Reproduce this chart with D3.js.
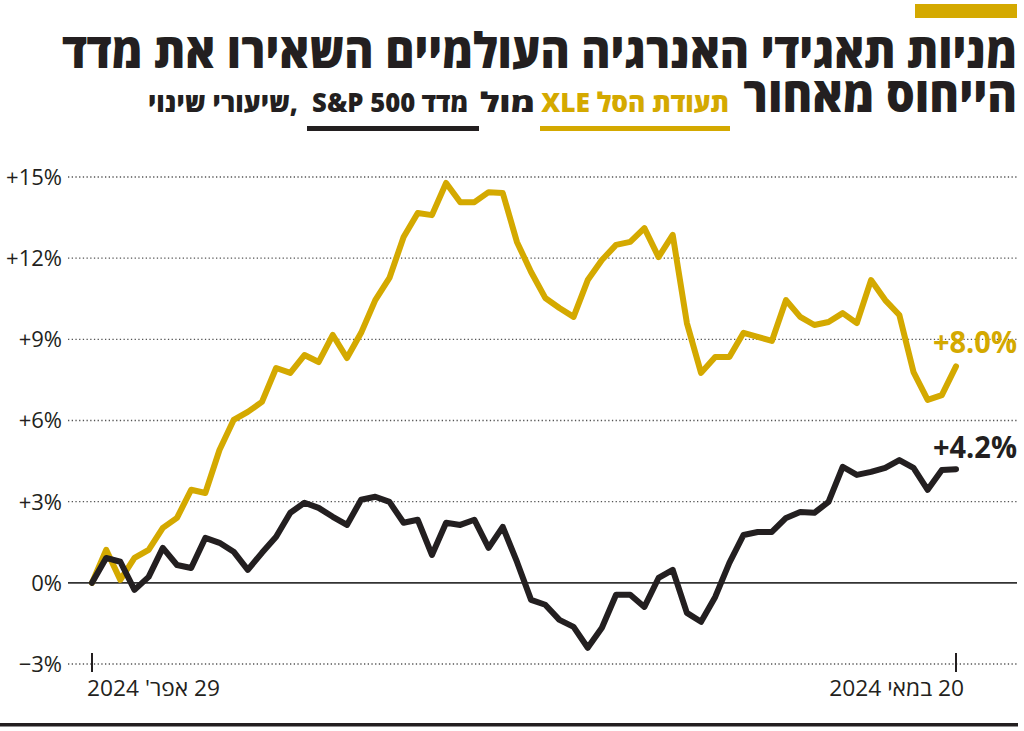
<!DOCTYPE html>
<html><head><meta charset="utf-8">
<script src="https://cdn.jsdelivr.net/npm/d3@7"></script>
<style>body{margin:0;background:#fff}svg{display:block}</style>
</head><body>
<script>
// ---- data ----
const titleLines = ["מניות תאגידי האנרגיה העולמיים השאירו את מדד", "הייחוס מאחור"];
const legendXLE = "תעודת הסל XLE";
const legendVs = "מול";
const legendSPX = "מדד S&P 500";
const legendTail = ",שיעורי שינוי";
const xTickLabels = ["29 אפר' 2024", "20 במאי 2024"];
const yTicks = [-3, 0, 3, 6, 9, 12, 15];
const xleValues = [0, 1.22, 0.11, 0.92, 1.22, 2.03, 2.40, 3.44, 3.32, 4.91,
  6.02, 6.32, 6.69, 7.94, 7.76, 8.42, 8.16, 9.16, 8.31, 9.24,
  10.45, 11.27, 12.78, 13.67, 13.59, 14.78, 14.07, 14.07, 14.44, 14.41,
  12.60, 11.49, 10.53, 10.16, 9.83, 11.19, 11.93, 12.49, 12.60, 13.11,
  12.04, 12.86, 9.60, 7.76, 8.35, 8.35, 9.24, 9.09, 8.94, 10.45,
  9.83, 9.53, 9.64, 9.97, 9.60, 11.19, 10.45, 9.90, 7.79, 6.76,
  6.94, 8.0];
const spxValues = [0, 0.92, 0.78, -0.26, 0.22, 1.29, 0.66, 0.55, 1.66, 1.48,
  1.15, 0.48, 1.11, 1.70, 2.59, 2.96, 2.77, 2.44, 2.14, 3.07,
  3.18, 2.99, 2.22, 2.33, 1.03, 2.22, 2.14, 2.33, 1.29, 2.07,
  0.78, -0.63, -0.81, -1.37, -1.63, -2.40, -1.66, -0.44, -0.44, -0.89,
  0.18, 0.48, -1.11, -1.44, -0.52, 0.74, 1.77, 1.88, 1.88, 2.40,
  2.62, 2.59, 2.99, 4.29, 3.99, 4.10, 4.25, 4.54, 4.25, 3.44,
  4.17, 4.2];

// ---- layout ----
const W = 1024, H = 731;
const GOLD = "#d4a900", INK = "#231f20";
const HEB = "'Open Sans','DejaVu Sans',sans-serif";
const svg = d3.select("body").append("svg").attr("width", W).attr("height", H);

const x = d3.scaleLinear().domain([0, xleValues.length - 1]).range([92, 956]);
const y = d3.scaleLinear().domain([-3, 15]).range([664, 177]);

// place a text so its right edge is at rightX and its width equals width (horizontal scale)
function fitRight(sel, rightX, width) {
  sel.attr("x", 0);
  const b = sel.node().getBBox();
  sel.attr("x", -(b.x + b.width));
  const sx = width ? width / b.width : 1;
  sel.attr("transform", `translate(${rightX},0) scale(${sx},1)`);
  return sel;
}
function htext(txt, baseline, size, weight, color) {
  return svg.append("text").attr("y", baseline).attr("direction", "rtl")
    .attr("font-family", HEB).attr("font-weight", weight).attr("font-size", size)
    .attr("fill", color).text(txt);
}

// top accent bar
svg.append("rect").attr("x", 915).attr("y", 4).attr("width", 102).attr("height", 14).attr("fill", GOLD);

// title
fitRight(htext(titleLines[0], 68, 49, 800, INK), 1017, 955);
fitRight(htext(titleLines[1], 112, 49, 800, INK), 1017, 274);

// subtitle / legend
fitRight(htext(legendXLE, 112, 27, 800, GOLD), 729, 188);
fitRight(htext(legendVs, 112, 27, 800, INK), 535, 55);
fitRight(htext(legendSPX, 112, 27, 800, INK), 468, 156);
fitRight(htext(legendTail, 112, 27, 800, INK), 298, 150);
svg.append("rect").attr("x", 540).attr("y", 126).attr("width", 190).attr("height", 5).attr("fill", GOLD);
svg.append("rect").attr("x", 307).attr("y", 126).attr("width", 172).attr("height", 5).attr("fill", INK);

// grid
const g = svg.append("g");
g.selectAll("line.grid").data(yTicks.filter(d => d !== 0)).join("line")
  .attr("x1", 68).attr("x2", 1017).attr("y1", d => y(d)).attr("y2", d => y(d))
  .attr("stroke", "#555").attr("stroke-width", 1.3).attr("stroke-dasharray", "1.3,2.4");
g.append("line").attr("x1", 68).attr("x2", 1017).attr("y1", y(0)).attr("y2", y(0))
  .attr("stroke", "#333").attr("stroke-width", 1.8);

// y labels
const fmtY = d => d === 0 ? "0%" : (d > 0 ? "+" + d + "%" : "\u2212" + Math.abs(d) + "%");
g.selectAll("text.yl").data(yTicks).join("text")
  .attr("x", 62).attr("y", d => y(d)).attr("dy", "0.36em").attr("text-anchor", "end")
  .attr("font-family", "'Open Sans',sans-serif").attr("font-size", 22).attr("fill", INK)
  .text(fmtY);

// x ticks and labels
const tickIdx = [0, xleValues.length - 1];
g.selectAll("line.xt").data(tickIdx).join("line")
  .attr("x1", d => x(d)).attr("x2", d => x(d)).attr("y1", 653).attr("y2", 672)
  .attr("stroke", INK).attr("stroke-width", 2);
fitRight(htext(xTickLabels[0], 696, 22, 400, INK), x(tickIdx[0]) + 128, 133);
fitRight(htext(xTickLabels[1], 696, 22, 400, INK), x(tickIdx[1]) + 8, 135);

// lines
const line = d3.line().x((d, i) => x(i)).y(d => y(d)).curve(d3.curveLinear);
svg.append("path").datum(xleValues).attr("d", line).attr("fill", "none")
  .attr("stroke", GOLD).attr("stroke-width", 6).attr("stroke-linejoin", "round").attr("stroke-linecap", "round");
svg.append("path").datum(spxValues).attr("d", line).attr("fill", "none")
  .attr("stroke", INK).attr("stroke-width", 6).attr("stroke-linejoin", "round").attr("stroke-linecap", "round");

// end labels
const fmtEnd = d3.format("+.1f");
const lastX = xleValues[xleValues.length - 1], lastS = spxValues[spxValues.length - 1];
function endLabel(v, color, off) {
  const t = svg.append("text").attr("y", y(v) - off)
    .attr("font-family", "'Open Sans',sans-serif").attr("font-weight", 700).attr("font-size", 31)
    .attr("fill", color).text(fmtEnd(v) + "%");
  fitRight(t, 1017, 84);
}
endLabel(lastX, GOLD, 13);
endLabel(lastS, INK, 11);

// bottom rule
svg.append("rect").attr("x", 0).attr("y", 723).attr("width", 1018).attr("height", 3.5).attr("fill", INK);
</script>
</body></html>
